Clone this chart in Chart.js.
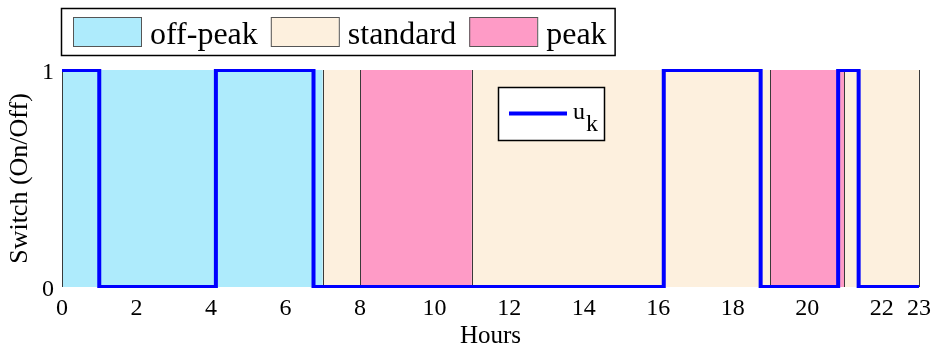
<!DOCTYPE html>
<html>
<head>
<meta charset="utf-8">
<script src="https://cdn.jsdelivr.net/npm/chart.js@4.4.0/dist/chart.umd.min.js"></script>
<style>
  html, body { margin: 0; padding: 0; background: #fff; }
  canvas { display: block; }
</style>
</head>
<body>
<canvas id="chart" width="934" height="349"></canvas>
<script>
const xTicks = [0, 2, 4, 6, 8, 10, 12, 14, 16, 18, 20, 22, 23];
const yTicks = [0, 1];

// tariff periods
const bandStart = [0, 7, 8, 11, 19, 21, 23];
const bandEnd = [7, 8, 11, 19, 21, 23, 24];
const bandType = ["off-peak", "standard", "peak", "standard", "peak", "standard", "off-peak"];

// switch u_k, value holds from each time on
const switchTimes = [0, 1, 4.13, 6.75, 16.15, 18.75, 20.83, 21.38, 23];
const switchValues = [1, 0, 1, 0, 1, 0, 1, 0, 0];

const legendNames = ["off-peak", "standard", "peak"];
const bandColors = { "off-peak": "#aeebfc", "standard": "#fdf0de", "peak": "#fe9bc6" };

const serif = "'Liberation Serif', 'Times New Roman', serif";

const bandsPlugin = {
  id: "bands",
  beforeDatasetsDraw(chart) {
    const { ctx, chartArea, scales } = chart;
    const x = scales.x, y = scales.y;
    ctx.save();
    ctx.beginPath();
    ctx.rect(chartArea.left, chartArea.top - 1, chartArea.right - chartArea.left + 1, chartArea.bottom - chartArea.top + 2);
    ctx.clip();
    const top = y.getPixelForValue(1), bot = y.getPixelForValue(0);
    for (let i = 0; i < bandStart.length; i++) {
      const x0 = x.getPixelForValue(bandStart[i]);
      const x1 = x.getPixelForValue(bandEnd[i]);
      ctx.fillStyle = bandColors[bandType[i]];
      ctx.fillRect(x0, top, x1 - x0, bot - top);
      ctx.strokeStyle = "#3a3a3a";
      ctx.lineWidth = 1;
      ctx.beginPath();
      ctx.moveTo(Math.round(x0) + 0.5, top);
      ctx.lineTo(Math.round(x0) + 0.5, bot);
      ctx.moveTo(Math.round(x1) + 0.5, top);
      ctx.lineTo(Math.round(x1) + 0.5, bot);
      ctx.stroke();
    }
    ctx.restore();
  }
};

const legendPlugin = {
  id: "boxLegends",
  afterDraw(chart) {
    const ctx = chart.ctx;
    ctx.save();
    // top legend
    ctx.font = "32px " + serif;
    ctx.textBaseline = "alphabetic";
    let xPos = 73;
    const items = [];
    legendNames.forEach(name => {
      items.push({ name, sx: xPos, tx: xPos + 77 });
      xPos += 77 + ctx.measureText(name).width + 13;
    });
    const boxRight = xPos - 13 + 8;
    ctx.fillStyle = "#fff";
    ctx.fillRect(61, 8, boxRight - 61, 48);
    ctx.strokeStyle = "#000";
    ctx.lineWidth = 1.5;
    ctx.strokeRect(61.5, 8.5, boxRight - 61, 47);
    items.forEach(it => {
      ctx.fillStyle = bandColors[it.name];
      ctx.fillRect(it.sx, 17, 68, 29);
      ctx.strokeStyle = "#555";
      ctx.lineWidth = 1;
      ctx.strokeRect(it.sx + 0.5, 17.5, 68, 29);
      ctx.fillStyle = "#000";
      ctx.fillText(it.name, it.tx, 44);
    });

    // u_k legend
    ctx.fillStyle = "#fff";
    ctx.fillRect(498, 87, 106, 53);
    ctx.strokeStyle = "#000";
    ctx.lineWidth = 1.5;
    ctx.strokeRect(498.5, 87.5, 106, 53);
    ctx.strokeStyle = "#0000ff";
    ctx.lineWidth = 4;
    ctx.beginPath();
    ctx.moveTo(509, 113.5);
    ctx.lineTo(567, 113.5);
    ctx.stroke();
    ctx.fillStyle = "#000";
    ctx.font = "24px " + serif;
    ctx.fillText("u", 573, 119);
    ctx.fillText("k", 586, 131);
    ctx.restore();
  }
};

new Chart(document.getElementById("chart"), {
  type: "line",
  data: {
    datasets: [{
      label: "u_k",
      data: switchTimes.map((t, i) => ({ x: t, y: switchValues[i] })),
      borderColor: "#0000ff",
      borderWidth: 4,
      stepped: "before",
      pointRadius: 0,
      fill: false,
      clip: 1
    }]
  },
  options: {
    responsive: false,
    animation: false,
    layout: { padding: { left: 0, right: 15, top: 70, bottom: 0 } },
    plugins: { legend: { display: false }, tooltip: { enabled: false } },
    scales: {
      x: {
        type: "linear",
        min: 0,
        max: 23,
        afterBuildTicks: s => { s.ticks = xTicks.map(v => ({ value: v })); },
        afterFit: s => { s.height = 62; s.paddingLeft = 0; s.paddingRight = 0; },
        grid: { display: false, drawTicks: false },
        border: { display: false },
        ticks: { color: "#000", font: { family: serif, size: 24 }, padding: 7, maxRotation: 0, autoSkip: false },
        title: { display: true, text: "Hours", color: "#000", font: { family: serif, size: 25, lineHeight: 1 }, padding: { top: 0, bottom: 0 } }
      },
      y: {
        type: "linear",
        min: 0,
        max: 1,
        afterBuildTicks: s => { s.ticks = yTicks.map(v => ({ value: v })); },
        afterFit: s => { s.width = 62; },
        grid: { display: false, drawTicks: false },
        border: { display: false },
        ticks: { color: "#000", font: { family: serif, size: 24 }, padding: 8, labelOffset: 3 },
        title: { display: true, text: "Switch (On/Off)", color: "#000", font: { family: serif, size: 26 }, padding: { top: 5, bottom: 0 } }
      }
    }
  },
  plugins: [bandsPlugin, legendPlugin]
});
</script>
</body>
</html>
